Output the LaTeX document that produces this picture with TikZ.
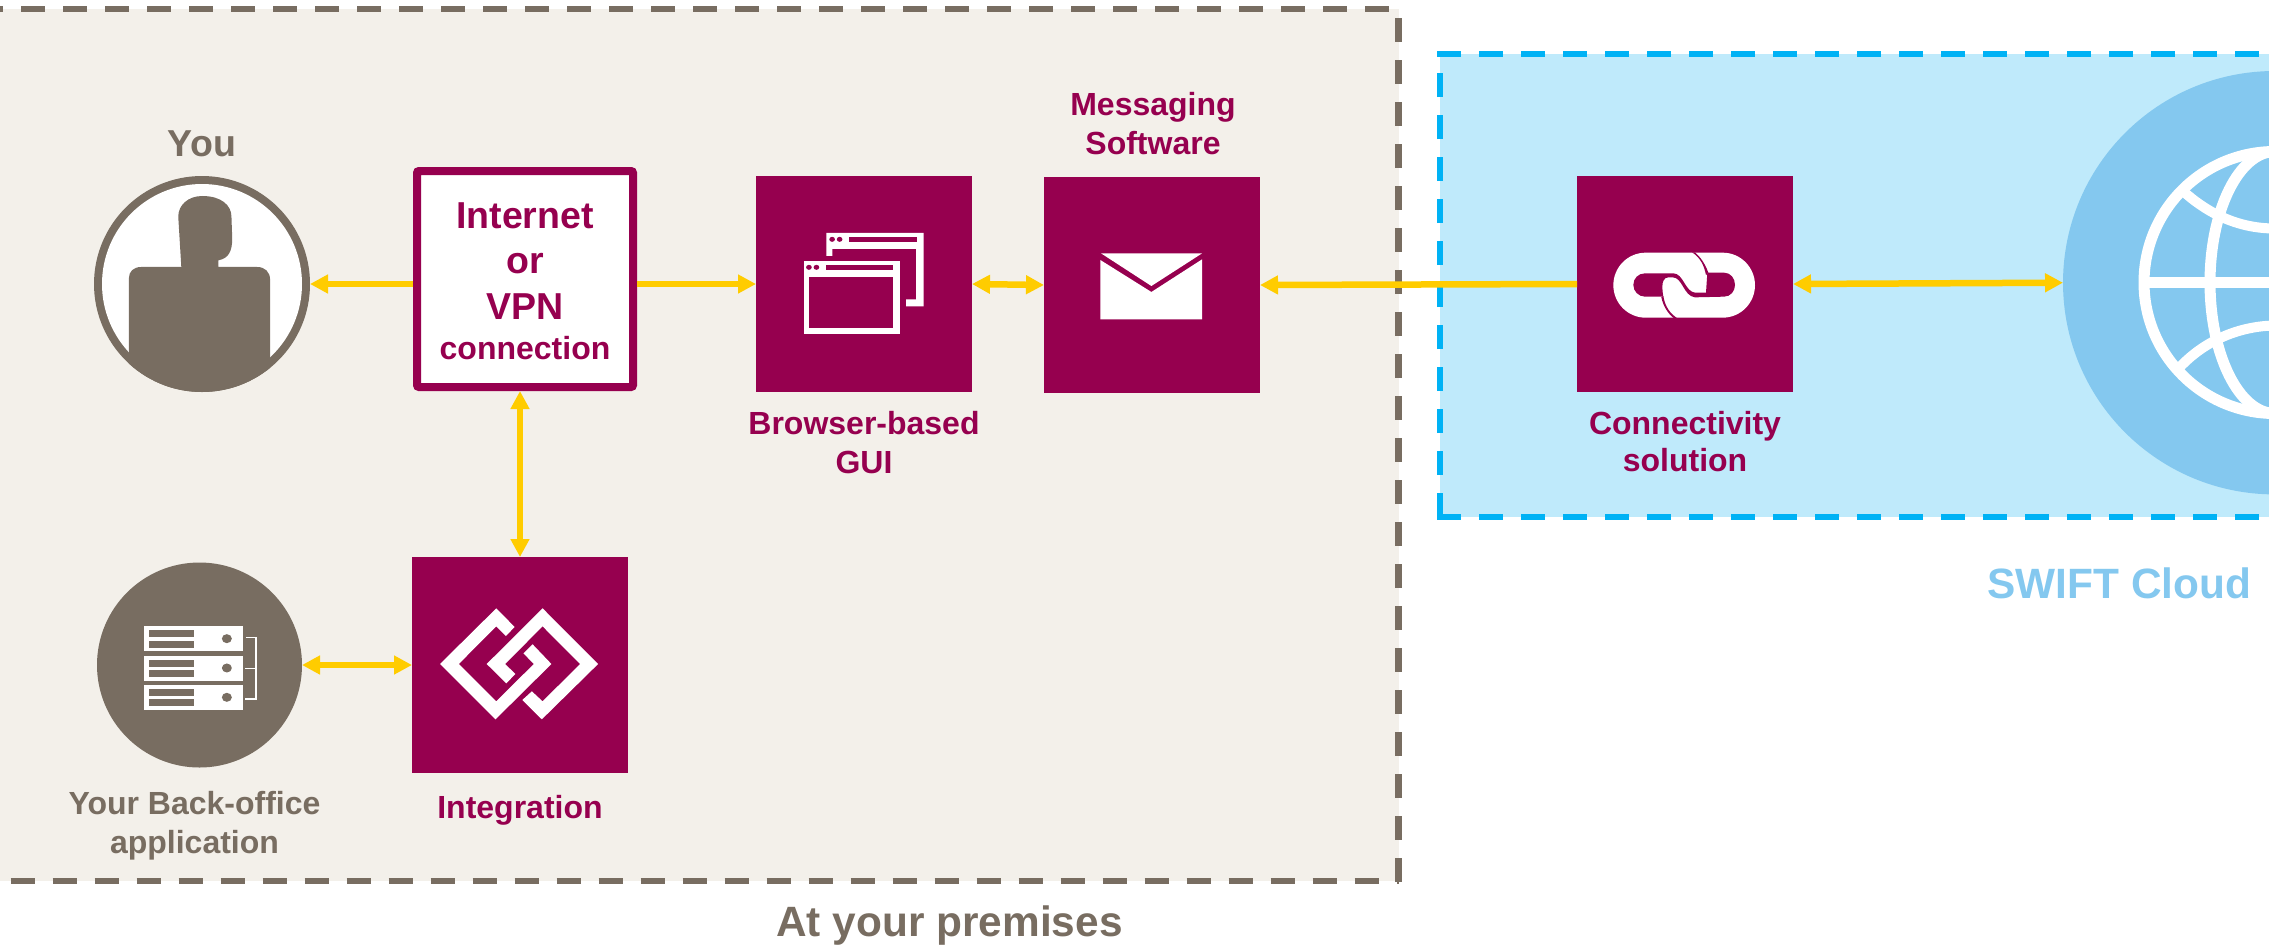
\documentclass[tikz,border=0pt]{standalone}
\usepackage{fontspec}
\setmainfont{Liberation Sans}
\usetikzlibrary{arrows.meta}
\definecolor{maroonx}{HTML}{96004F}
\definecolor{greyx}{HTML}{786D61}
\definecolor{sandx}{HTML}{F3F0EA}
\definecolor{skyx}{HTML}{BFEAFB}
\definecolor{dashblue}{HTML}{00B2F5}
\definecolor{globex}{HTML}{84C8EF}
\definecolor{yellowx}{HTML}{FFCC00}
\tikzset{
  mbox/.style={fill=maroonx,minimum width=216pt,minimum height=216pt,inner sep=0pt,outer sep=0pt},
  disc/.style={circle,fill=#1,inner sep=0pt,outer sep=0pt},
  arr/.style={draw=yellowx,line width=6.5pt,line cap=butt},
  both/.style={arr,{Triangle[length=18pt,width=18pt]}-{Triangle[length=18pt,width=18pt]}},
  single/.style={arr,{Triangle[length=18pt,width=18pt]}-},
  mlabel/.style={text=maroonx,font=\bfseries\fontsize{32}{38.5}\selectfont,align=center,anchor=base,inner sep=0pt},
  glabel/.style={text=greyx,font=\bfseries\fontsize{32}{39}\selectfont,align=center,anchor=base,inner sep=0pt},
  greydash/.style={draw=greyx,line width=6.4pt,dash pattern=on 24pt off 18pt},
  bluedash/.style={draw=dashblue,line width=6.4pt,dash pattern=on 24pt off 18pt},
  globeline/.style={draw=white,line width=11pt},
}
\begin{document}
\begin{tikzpicture}[x=1pt,y=-1pt]
\useasboundingbox (0,0) rectangle (2269,946);
\clip (0,0) rectangle (2269,946);
% regions
\fill[sandx] (0,9) rectangle (1399,881);
\fill[skyx] (1440,54) rectangle (2269,517);
\draw[greydash] (-21,9) -- (1398,9);
\draw[greydash] (1398.5,18) -- (1398.5,884);
\draw[greydash] (-31.3,881) -- (1399,881);
\draw[bluedash] (1437,54) -- (2269,54);
\draw[bluedash] (1440,517) -- (1440,54);
\draw[bluedash] (1437,517) -- (2269,517);
% You
\node[disc=greyx,minimum size=216pt] (you) at (202,284) {};
\fill[white] (202,284) circle[radius=100];
\begin{scope}
\clip (202,284) circle[radius=108];
\begin{scope}[shift={(60,130)},xscale=0.3827,yscale=0.3333]
\fill[greyx] (180,800) -- (180,445) .. controls (180,425) and (192,411) .. (212,411) -- (317,411) -- (309,260)
 .. controls (309,225) and (335,198) .. (372,198) .. controls (420,198) and (448,225) .. (448,260) -- (450,325)
 .. controls (450,365) and (440,385) .. (414,391) -- (414,411) -- (515,411)
 .. controls (535,411) and (549,425) .. (549,450) -- (549,800) -- cycle;
\end{scope}
\end{scope}
\node[glabel,font=\bfseries\fontsize{37.5}{40}\selectfont] (youlabel) at (202,156) {You};
% Internet box
\node[draw=maroonx,fill=white,line width=8pt,rounded corners=2pt,minimum width=216pt,minimum height=216pt,inner sep=0pt,outer sep=4pt] (inet) at (525,279) {};
\node[text=maroonx,font=\bfseries\fontsize{37.5}{45.5}\selectfont,align=center,anchor=base,inner sep=0pt] (inettext) at (525,359)
 {Internet\\or\\VPN\\[-5.5pt]{\fontsize{32}{32}\selectfont connection}};
% Back office
\node[disc=greyx,minimum size=205pt] (back) at (199.5,665) {};
\begin{scope}[shift={(60,530)},xscale=0.3827,yscale=0.3333]
\foreach \t/\b in {289/364,377/452,465/541}{
  \fill[white] (220,\t) rectangle (478,\b);
  \fill[greyx] (232,\t+12) rectangle (350,\t+33);
  \fill[greyx] (232,\t+43) rectangle (350,\t+64);
  \fill[greyx] (436,\t+37) ellipse[x radius=13,y radius=13.5];
}
\draw[white,line width=1.3pt] (487,323) -- (512,323) -- (512,507) -- (483,507);
\draw[white,line width=1.3pt] (483,415) -- (512,415);
\end{scope}
\node[glabel] (backlabel) at (194.5,853.3) {Your Back-office\\application};
% Integration
\node[mbox] (integ) at (520,665) {};
\begin{scope}[shift={(60,530)},xscale=0.3827,yscale=0.3333]
\fill[white] (1188,291) -- (1140,235) -- (993,402) -- (1138,568) -- (1284,402) -- (1235,343) -- (1211,370) -- (1238,402) -- (1140,514) -- (1042,402) -- (1140,289) -- (1165,318) -- cycle;
\fill[white] (1208,510) -- (1259,568) -- (1406,402) -- (1261,235) -- (1115,402) -- (1166,460) -- (1190,432) -- (1163,402) -- (1261,289) -- (1359,402) -- (1261,514) -- (1233,484) -- cycle;
\end{scope}
\node[mlabel] (integlabel) at (520,818) {Integration};
% Browser
\node[mbox] (browser) at (864,284) {};
\begin{scope}[shift={(720,150)},xscale=0.3571,yscale=0.3333]
\fill[white] (298,249) -- (570,249) -- (570,469) -- (521,469) -- (521,448) -- (549,448) -- (549,297) -- (315,297) -- (315,318) -- (298,318) -- cycle;
\fill[maroonx] (360,261) rectangle (551,275);
\fill[maroonx] (314,268) ellipse[x radius=8,y radius=7.5] (335,268) ellipse[x radius=8,y radius=7.5];
\fill[white] (234,333) rectangle (504,553);
\fill[maroonx] (250,381) rectangle (484,533);
\fill[maroonx] (297,345) rectangle (484,359);
\fill[maroonx] (249,352) ellipse[x radius=8,y radius=7.5] (270,352) ellipse[x radius=8,y radius=7.5];
\end{scope}
\node[mlabel] (browserlabel) at (864,473) {Browser-based\\GUI};
% Messaging
\node[mbox] (msg) at (1152,285) {};
\begin{scope}[shift={(720,150)},xscale=0.3571,yscale=0.3333]
\fill[white] (1067,310) -- (1350,310) -- (1208,408) -- cycle;
\fill[white] (1065,330) -- (1208,426) -- (1350,328) -- (1350,508) -- (1065,508) -- cycle;
\end{scope}
\node[mlabel] (msglabel) at (1153,154) {Messaging\\Software};
% Globe
\node[disc=globex,minimum size=423.4pt] (globe) at (2274.7,282.7) {};
\draw[globeline] (2275,282.5) circle[radius=131];
\draw[globeline] (2275,282.5) ellipse[x radius=65,y radius=131];
\draw[globeline] (2144,282.5) -- (2269,282.5);
\draw[draw=white,line width=10pt] (2184,192) .. controls (2210,215) and (2240,228.5) .. (2275,228.5);
\draw[draw=white,line width=10pt] (2179,368) .. controls (2205,340) and (2240,326) .. (2275,325.5);
% Connectivity
\node[mbox] (conn) at (1685,284) {};
\begin{scope}[shift={(1600,240)},scale=0.3333]
\fill[white] (137,38) -- (368,38) .. controls (422,38) and (465,82) .. (465,135.5) .. controls (465,189) and (422,233) .. (368,233)
  -- (137,233) .. controls (83,233) and (40,189) .. (40,135.5) .. controls (40,82) and (83,38) .. (137,38) -- cycle;
\fill[maroonx] (135,100) -- (220,100) .. controls (250,100) and (255,155) .. (285,158) -- (318,158) -- (322,98) -- (372,98)
  .. controls (392,98) and (405,115) .. (405,135) .. controls (405,153) and (392,170) .. (372,170) -- (285,172)
  .. controls (250,168) and (248,112) .. (218,112) -- (205,112)
  .. controls (192,112) and (187,125) .. (187,140) .. controls (187,150) and (188,160) .. (190,170)
  -- (135,170) .. controls (115,170) and (100,153) .. (100,135) .. controls (100,115) and (115,100) .. (135,100) -- cycle;
\fill[maroonx] (276,37) .. controls (300,52) and (312,75) .. (318,105) -- (325,98) .. controls (315,70) and (300,50) .. (285,37) -- cycle;
\fill[maroonx] (190,168) .. controls (195,200) and (210,220) .. (232,235) -- (222,235) .. controls (205,222) and (190,200) .. (184,172) -- cycle;
\end{scope}
\node[mlabel,font=\bfseries\fontsize{32}{37.7}\selectfont] (connlabel) at (1685,471.7) {Connectivity\\solution};
% Titles
\node[glabel,font=\bfseries\fontsize{42.4}{50}\selectfont] (premises) at (949.5,936) {At your premises};
\node[glabel,text=globex,font=\bfseries\fontsize{42.4}{44}\selectfont] (cloud) at (2119.5,598) {SWIFT Cloud};
% Connectors
\draw[single] (you.east) -- (you.east -| inet.west);
\draw[arr,-{Triangle[length=18pt,width=18pt]}] (inet.east |- browser.west) -- (browser.west);
\draw[both] (browser.east) -- (msg.west);
\draw[single] (msg.east) -- (conn.west);
\draw[both] (conn.east) -- (globe.west);
\draw[both] (integ.north) -- (integ.north |- inet.south);
\draw[both] (back.east) -- (integ.west);
\end{tikzpicture}
\end{document}
